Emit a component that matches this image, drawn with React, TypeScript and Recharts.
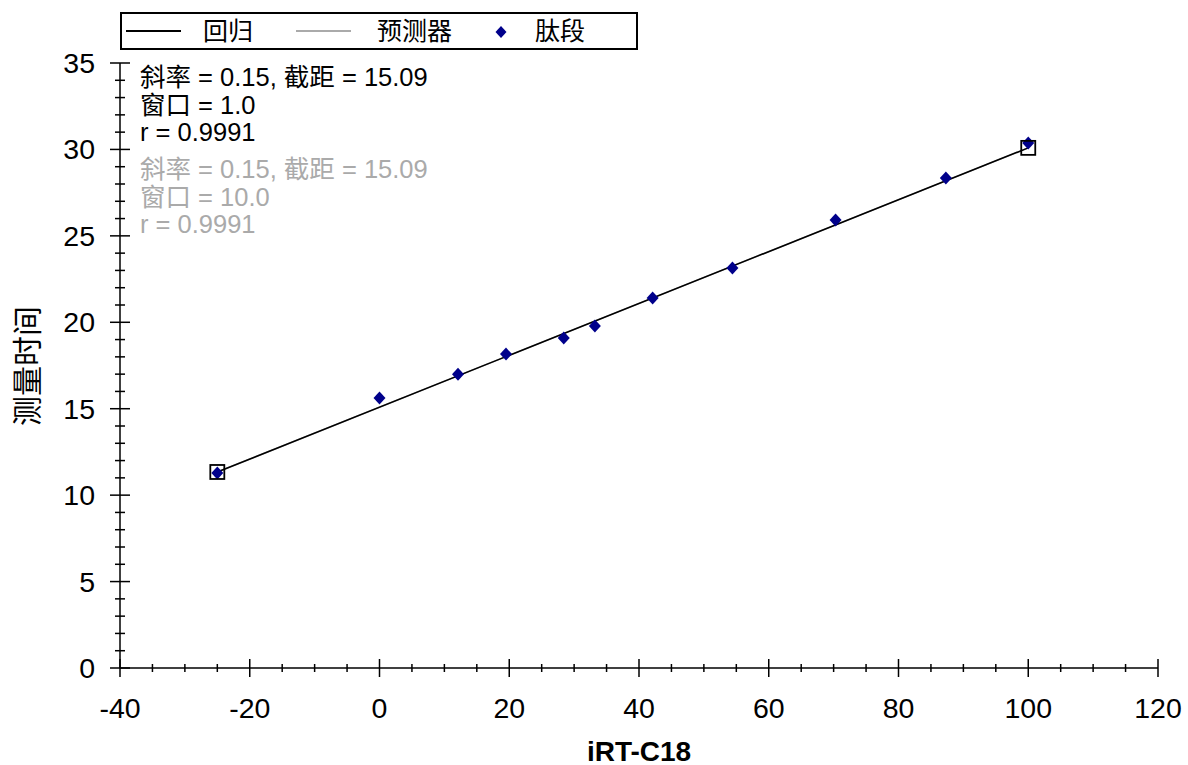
import React from 'react';
import { ComposedChart, Scatter, XAxis, YAxis } from 'recharts';

const FONT = '"Liberation Sans", Arial, "Noto Sans CJK SC", sans-serif';

// iRT-C18 values of the peptides and their measured retention times
const peptideIrt = [-25, 0, 12.1, 19.5, 28.4, 33.2, 42.1, 54.4, 70.3, 87.3, 100];
const peptideTime = [11.28, 15.62, 17.0, 18.16, 19.09, 19.78, 21.4, 23.14, 25.92, 28.35, 30.37];

// regression end points (slope 0.15, intercept 15.09)
const regressionIrt = [-25, 100];
const regressionTime = [11.34, 30.09];

const xTicks = [-40, -35, -30, -25, -20, -15, -10, -5, 0, 5, 10, 15, 20, 25, 30, 35, 40, 45, 50, 55, 60, 65, 70, 75, 80, 85, 90, 95, 100, 105, 110, 115, 120];
const xMajor = [-40, -20, 0, 20, 40, 60, 80, 100, 120];
const yTicks = [0, 1, 2, 3, 4, 5, 6, 7, 8, 9, 10, 11, 12, 13, 14, 15, 16, 17, 18, 19, 20, 21, 22, 23, 24, 25, 26, 27, 28, 29, 30, 31, 32, 33, 34, 35];
const yMajor = [0, 5, 10, 15, 20, 25, 30, 35];

const regressionLines = ['斜率 = 0.15, 截距 = 15.09', '窗口 = 1.0', 'r = 0.9991'];
const predictorLines = ['斜率 = 0.15, 截距 = 15.09', '窗口 = 10.0', 'r = 0.9991'];

const peptides = peptideIrt.map((x, i) => ({ x, y: peptideTime[i] }));
const regression = regressionIrt.map((x, i) => ({ x, y: regressionTime[i] }));

const PEPTIDE_COLOR = '#00008b';
const PREDICTOR_COLOR = '#aaaaaa';

// eslint-disable-next-line @typescript-eslint/no-explicit-any
function XTick(props: any) {
  const { x, y, payload } = props;
  const major = xMajor.includes(payload.value);
  const len = major ? 9 : 4;
  return (
    <g>
      <line x1={x} x2={x} y1={y - len} y2={y + len} stroke="#000" strokeWidth={1.5} />
      {major && (
        <text x={x} y={y + 40} textAnchor="middle" dominantBaseline="central" fontSize={28.5} fontFamily={FONT} fill="#000">
          {payload.value}
        </text>
      )}
    </g>
  );
}

// eslint-disable-next-line @typescript-eslint/no-explicit-any
function YTick(props: any) {
  const { x, y, payload } = props;
  const major = yMajor.includes(payload.value);
  const len = major ? 10 : 5;
  return (
    <g>
      <line x1={x - len} x2={x + len} y1={y} y2={y} stroke="#000" strokeWidth={1.5} />
      {major && (
        <text x={x - 25} y={y} textAnchor="end" dominantBaseline="central" fontSize={28.5} fontFamily={FONT} fill="#000">
          {payload.value}
        </text>
      )}
    </g>
  );
}

// eslint-disable-next-line @typescript-eslint/no-explicit-any
function Diamond(props: any) {
  const { cx, cy } = props;
  return <polygon points={`${cx},${cy - 6.5} ${cx + 6},${cy} ${cx},${cy + 6.5} ${cx - 6},${cy}`} fill={PEPTIDE_COLOR} />;
}

// eslint-disable-next-line @typescript-eslint/no-explicit-any
function EndSquare(props: any) {
  const { cx, cy } = props;
  return <rect x={cx - 7} y={cy - 7} width={14} height={14} fill="none" stroke="#000" strokeWidth={1.8} />;
}

const noShape = () => <g />;

export default function App() {
  return (
    <div style={{ position: 'absolute', left: 0, top: 0, width: 1188, height: 765, background: '#fff', fontFamily: FONT }}>
      <ComposedChart width={1188} height={765} margin={{ top: 63, right: 30, left: 0, bottom: 0 }}>
        <XAxis
          type="number"
          dataKey="x"
          domain={[-40, 120]}
          ticks={xTicks}
          interval={0}
          height={97}
          tickSize={0}
          tickMargin={0}
          tick={<XTick />}
          axisLine={{ stroke: '#000', strokeWidth: 1.5 }}
          allowDataOverflow
        />
        <YAxis
          type="number"
          dataKey="y"
          domain={[0, 35]}
          ticks={yTicks}
          interval={0}
          width={120}
          tickSize={0}
          tickMargin={0}
          tick={<YTick />}
          axisLine={{ stroke: '#000', strokeWidth: 1.5 }}
          allowDataOverflow
        />
        <Scatter data={regression} line={{ stroke: PREDICTOR_COLOR, strokeWidth: 1.5 }} shape={noShape} isAnimationActive={false} />
        <Scatter data={regression} line={{ stroke: '#000', strokeWidth: 1.6 }} shape={noShape} isAnimationActive={false} />
        <Scatter data={peptides} shape={<Diamond />} isAnimationActive={false} />
        <Scatter data={regression} shape={<EndSquare />} isAnimationActive={false} />
      </ComposedChart>

      {/* Legend */}
      <div
        style={{
          position: 'absolute',
          left: 120,
          top: 12,
          width: 518,
          height: 38,
          boxSizing: 'border-box',
          border: '2px solid #000',
          fontSize: 25,
        }}
      >
        <span style={{ position: 'absolute', left: 4, top: 16, width: 55, borderTop: '2px solid #000' }} />
        <span style={{ position: 'absolute', left: 81, top: 2, lineHeight: '30px' }}>回归</span>
        <span style={{ position: 'absolute', left: 174, top: 16, width: 55, borderTop: `2px solid ${PREDICTOR_COLOR}` }} />
        <span style={{ position: 'absolute', left: 255, top: 2, lineHeight: '30px' }}>预测器</span>
        <svg style={{ position: 'absolute', left: 372, top: 11 }} width={14} height={14}>
          <polygon points="7,1 12.5,7 7,13 1.5,7" fill={PEPTIDE_COLOR} />
        </svg>
        <span style={{ position: 'absolute', left: 413, top: 2, lineHeight: '30px' }}>肽段</span>
      </div>

      {/* Regression statistics */}
      <div style={{ position: 'absolute', left: 140, top: 64, fontSize: 25.5, lineHeight: '27.5px', color: '#000' }}>
        {regressionLines.map((t) => (
          <div key={'r' + t}>{t}</div>
        ))}
      </div>
      <div style={{ position: 'absolute', left: 140, top: 156, fontSize: 25.5, lineHeight: '27.5px', color: PREDICTOR_COLOR }}>
        {predictorLines.map((t) => (
          <div key={'p' + t}>{t}</div>
        ))}
      </div>

      {/* Axis titles */}
      <div style={{ position: 'absolute', left: 639, top: 752, transform: 'translate(-50%, -50%)', fontSize: 28, fontWeight: 'bold', whiteSpace: 'nowrap' }}>
        iRT-C18
      </div>
      <div
        style={{
          position: 'absolute',
          left: 25,
          top: 366,
          transform: 'translate(-50%, -50%) rotate(-90deg)',
          fontSize: 30,
          whiteSpace: 'nowrap',
        }}
      >
        测量时间
      </div>
    </div>
  );
}
